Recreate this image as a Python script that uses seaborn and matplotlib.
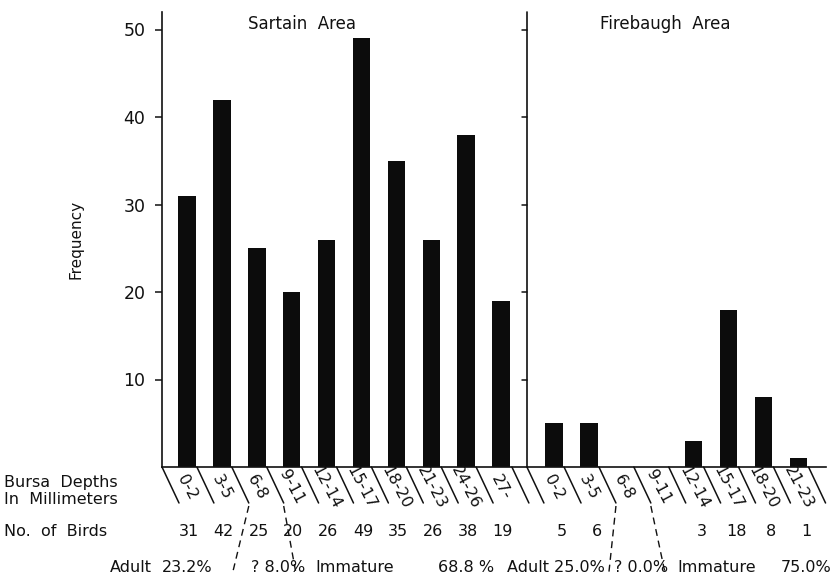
import numpy as np
import pandas as pd
import matplotlib
matplotlib.use("Agg")
import matplotlib.pyplot as plt
import seaborn as sns

# ---------------- data ----------------
sartain_bins = ["0-2", "3-5", "6-8", "9-11", "12-14", "15-17", "18-20", "21-23", "24-26", "27-"]
sartain_freq = [31, 42, 25, 20, 26, 49, 35, 26, 38, 19]
sartain_birds = ["31", "42", "25", "20", "26", "49", "35", "26", "38", "19"]

firebaugh_bins = ["0-2", "3-5", "6-8", "9-11", "12-14", "15-17", "18-20", "21-23"]
firebaugh_freq = [5, 5, 0, 0, 3, 18, 8, 1]
firebaugh_birds = ["5", "6", "", "", "3", "18", "8", "1"]

sartain_summary = ["23.2%", "? 8.0%", "Immature", "68.8 %"]
firebaugh_summary = ["Adult 25.0%", "? 0.0%", "Immature", "75.0%"]

y_ticks = [10, 20, 30, 40, 50]

# ---------------- layout ----------------
W, H = 836, 575
AX_L, AX_R, AX_B, AX_T = 162, 826, 467, 12
GAP = 1.52                      # extra spacing between the two areas (bin units)
XMIN, XMAX = -0.716, 18.31
YMAX = 52.0
FS = 11.5

sns.set_theme(style="white")
plt.rcParams["font.family"] = ["DejaVu Sans"]
INK = "#111111"

fig = plt.figure(figsize=(W / 100, H / 100), dpi=100)
ax = fig.add_axes([AX_L / W, (H - AX_B) / H, (AX_R - AX_L) / W, (AX_B - AX_T) / H])

sart_pos = np.arange(len(sartain_bins), dtype=float)
fire_pos = len(sartain_bins) - 1 + GAP + np.arange(len(firebaugh_bins), dtype=float)

df = pd.DataFrame({
    "pos": np.r_[sart_pos, fire_pos],
    "freq": sartain_freq + firebaugh_freq,
})
sns.barplot(data=df, x="pos", y="freq", native_scale=True, width=0.5,
            color="#0c0c0c", saturation=1, errorbar=None, linewidth=0, ax=ax)

ax.set_xlim(XMIN, XMAX)
ax.set_ylim(0, YMAX)
ax.set_xticks([])
ax.set_yticks(y_ticks)
ax.set_yticklabels([str(t) for t in y_ticks], fontsize=12.5, color=INK)
ax.tick_params(axis="y", direction="out", length=5, width=1.1, color=INK, pad=7, left=True)
ax.set_xlabel("")
ax.set_ylabel("Frequency", fontsize=11, color=INK, labelpad=29)
for s in ["top", "right"]:
    ax.spines[s].set_visible(False)
for s in ["left", "bottom"]:
    ax.spines[s].set_color(INK)
    ax.spines[s].set_linewidth(1.2)

px_per_unit = (AX_R - AX_L) / (XMAX - XMIN)
ax_h = AX_B - AX_T


def ux(px):
    """pixel offset -> x data units"""
    return px / px_per_unit


def fy(py):
    """absolute pixel row -> axes fraction"""
    return (AX_B - py) / ax_h


xt = ax.get_xaxis_transform()

# divider between the two areas
div_x = sart_pos[-1] + 0.74
ax.plot([div_x, div_x], [0, YMAX], color=INK, lw=1.2, clip_on=False)
for t in y_ticks:
    ax.plot([div_x - ux(5), div_x], [t, t], color=INK, lw=1.1, clip_on=False)

# area titles
ax.text(sart_pos.mean() - 1.2, 50.6, "Sartain  Area", ha="center", va="center",
        fontsize=12, color=INK)
ax.text(fire_pos.mean() - 0.32, 50.6, "Firebaugh  Area", ha="center", va="center",
        fontsize=12, color=INK)

# slanted separators + labels under the axis
SEP_DX, SEP_BOT = 17, 503
sart_seps = list(sart_pos - 0.716) + [sart_pos[-1] + 0.31]
fire_seps = [div_x] + list(fire_pos[1:] - 0.716) + [fire_pos[-1] + 0.29]
for sx in sart_seps + fire_seps:
    ax.plot([sx, sx + ux(SEP_DX)], [fy(AX_B), fy(SEP_BOT)], color=INK, lw=1.1,
            transform=xt, clip_on=False)

for pos, lab in list(zip(sart_pos, sartain_bins)) + list(zip(fire_pos, firebaugh_bins)):
    ax.text(pos, fy(487), lab, rotation=-62, rotation_mode="anchor",
            ha="center", va="center", fontsize=FS, color=INK,
            transform=xt, clip_on=False)

# dashed dividers adult / ? / immature
dash = dict(color=INK, lw=1.0, linestyle=(0, (5, 3.5)), transform=xt, clip_on=False)
for sx, shift in [(sart_seps[2], -16), (sart_seps[3], 12),
                  (fire_seps[2], -7), (fire_seps[3], 14)]:
    x0 = sx + ux(SEP_DX)
    ax.plot([x0, x0 + ux(shift)], [fy(SEP_BOT + 3), fy(572)], **dash)

# number of birds
for pos, n in zip(sart_pos, sartain_birds):
    ax.text(pos + 0.05, fy(531), n, ha="center", va="center", fontsize=FS,
            color=INK, transform=xt, clip_on=False)
for pos, n in zip(fire_pos, firebaugh_birds):
    if n:
        ax.text(pos + 0.22, fy(531), n, ha="center", va="center", fontsize=FS,
                color=INK, transform=xt, clip_on=False)

# adult / immature percentages
sart_sum_x = [0.0, 2.61, 4.81, 7.99]
fire_sum_x = [10.57, 13.01, 15.19]
for x, s in zip(sart_sum_x + fire_sum_x, sartain_summary + firebaugh_summary[:3]):
    ax.text(x, fy(568), s, ha="center", va="center", fontsize=FS, color=INK,
            transform=xt, clip_on=False)
# last percentage right-aligned so it stays inside the figure
ax.text(XMAX + ux(5), fy(568), firebaugh_summary[3], ha="right", va="center",
        fontsize=FS, color=INK, transform=xt, clip_on=False)

# row headers
fig.text(4 / W, 1 - 482 / H, "Bursa  Depths", ha="left", va="center", fontsize=FS, color=INK)
fig.text(4 / W, 1 - 499 / H, "In  Millimeters", ha="left", va="center", fontsize=FS, color=INK)
fig.text(4 / W, 1 - 531 / H, "No.  of  Birds", ha="left", va="center", fontsize=FS, color=INK)
fig.text(131 / W, 1 - 568 / H, "Adult", ha="center", va="center", fontsize=FS, color=INK)

fig.savefig("out.png", dpi=100, facecolor="white")
